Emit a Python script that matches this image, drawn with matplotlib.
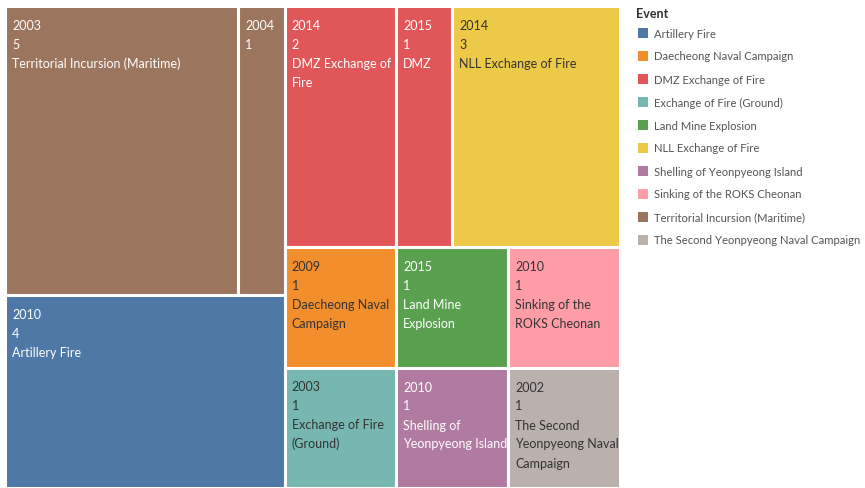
import matplotlib.pyplot as plt
from matplotlib.patches import Rectangle
from matplotlib.font_manager import FontProperties

plt.rcParams['font.family'] = ['Lato', 'DejaVu Sans']

# events in layout order (by total count)
events = ["Territorial Incursion (Maritime)", "Artillery Fire", "DMZ Exchange of Fire",
          "NLL Exchange of Fire", "Daecheong Naval Campaign", "Exchange of Fire (Ground)",
          "Land Mine Explosion", "Sinking of the ROKS Cheonan", "Shelling of Yeonpyeong Island",
          "The Second Yeonpyeong Naval Campaign"]

# one cell per (event, year)
cell_event = ["Territorial Incursion (Maritime)", "Territorial Incursion (Maritime)",
              "Artillery Fire", "DMZ Exchange of Fire", "DMZ Exchange of Fire",
              "NLL Exchange of Fire", "Daecheong Naval Campaign", "Exchange of Fire (Ground)",
              "Land Mine Explosion", "Sinking of the ROKS Cheonan",
              "Shelling of Yeonpyeong Island", "The Second Yeonpyeong Naval Campaign"]
cell_year = [2003, 2004, 2010, 2014, 2015, 2014, 2009, 2003, 2015, 2010, 2010, 2002]
cell_count = [5, 1, 4, 2, 1, 3, 1, 1, 1, 1, 1, 1]

legend_events = sorted(events, key=str.lower)

colors = {
    "Artillery Fire": "#4E79A7",
    "Daecheong Naval Campaign": "#F28E2B",
    "DMZ Exchange of Fire": "#E15759",
    "Exchange of Fire (Ground)": "#76B7B2",
    "Land Mine Explosion": "#59A14F",
    "NLL Exchange of Fire": "#EDC948",
    "Shelling of Yeonpyeong Island": "#B07AA1",
    "Sinking of the ROKS Cheonan": "#FF9DA7",
    "Territorial Incursion (Maritime)": "#9C755F",
    "The Second Yeonpyeong Naval Campaign": "#BAB0AC",
}
dark_text = {"Daecheong Naval Campaign", "Exchange of Fire (Ground)", "NLL Exchange of Fire",
             "Sinking of the ROKS Cheonan", "The Second Yeonpyeong Naval Campaign"}

FS = 9


def worst(row, side):
    s = sum(row)
    return max(side * side * max(row) / (s * s), s * s / (side * side * min(row)))


def squarify(vals, x, y, w, h):
    total = sum(vals)
    vals = [v * w * h / total for v in vals]
    rects = []
    i = 0
    while i < len(vals):
        side = min(w, h)
        row = [vals[i]]
        i += 1
        while i < len(vals) and worst(row + [vals[i]], side) <= worst(row, side):
            row.append(vals[i])
            i += 1
        s = sum(row)
        if w >= h:
            cw = s / h
            yy = y
            for v in row:
                rects.append((x, yy, cw, v / cw))
                yy += v / cw
            x += cw
            w -= cw
        else:
            rh = s / w
            xx = x
            for v in row:
                rects.append((xx, y, v / rh, rh))
                xx += v / rh
            y += rh
            h -= rh
    return rects


W, H = 615, 482
fig = plt.figure(figsize=(8.65, 4.89), dpi=100)
renderer = fig.canvas.get_renderer()
fp = FontProperties(family=['Lato', 'DejaVu Sans'], size=FS)


def text_w(s):
    return renderer.get_text_width_height_descent(s, fp, ismath=False)[0]


def wrap(s, maxw):
    out, cur = [], ""
    for word in s.split():
        trial = (cur + " " + word).strip()
        if text_w(trial) <= maxw:
            cur = trial
        else:
            if cur:
                out.append(cur)
            if text_w(word) > maxw:
                return out
            cur = word
    if cur:
        out.append(cur)
    return out


ax = fig.add_axes([5 / 865, 0, W / 865, H / 489])
ax.set_xlim(0, W)
ax.set_ylim(H, 0)
ax.axis('off')

totals = [sum(c for e, c in zip(cell_event, cell_count) if e == ev) for ev in events]
ev_rects = squarify(totals, 0, 0, W, H)

for ev, (ex, ey, ew, eh) in zip(events, ev_rects):
    idx = [i for i, e in enumerate(cell_event) if e == ev]
    tot = sum(cell_count[i] for i in idx)
    xx = ex
    for i in idx:
        cw = ew * cell_count[i] / tot
        ax.add_patch(Rectangle((xx, ey), cw, eh, facecolor=colors[ev],
                               edgecolor='white', linewidth=2.2))
        tc = '#333333' if ev in dark_text else 'white'
        lines = [str(cell_year[i]), str(cell_count[i])] + wrap(ev, cw - 7)
        for k, ln in enumerate(lines):
            ax.text(xx + 7, ey + 23 + 19 * k, ln, color=tc, fontsize=FS, va='baseline', ha='left')
        xx += cw

# legend
lax = fig.add_axes([0, 0, 1, 1])
lax.set_xlim(0, 865)
lax.set_ylim(489, 0)
lax.axis('off')
lax.text(636, 14, "Event", fontsize=9, color='#333333', fontweight='bold', va='center', ha='left')
for k, ev in enumerate(legend_events):
    yc = 34 + 23 * k
    lax.add_patch(Rectangle((638, yc - 5), 10, 10, facecolor=colors[ev], edgecolor='none'))
    lax.text(654, yc, ev, fontsize=8.1, color='#555555', va='center', ha='left')

fig.savefig('out.png', dpi=100)
